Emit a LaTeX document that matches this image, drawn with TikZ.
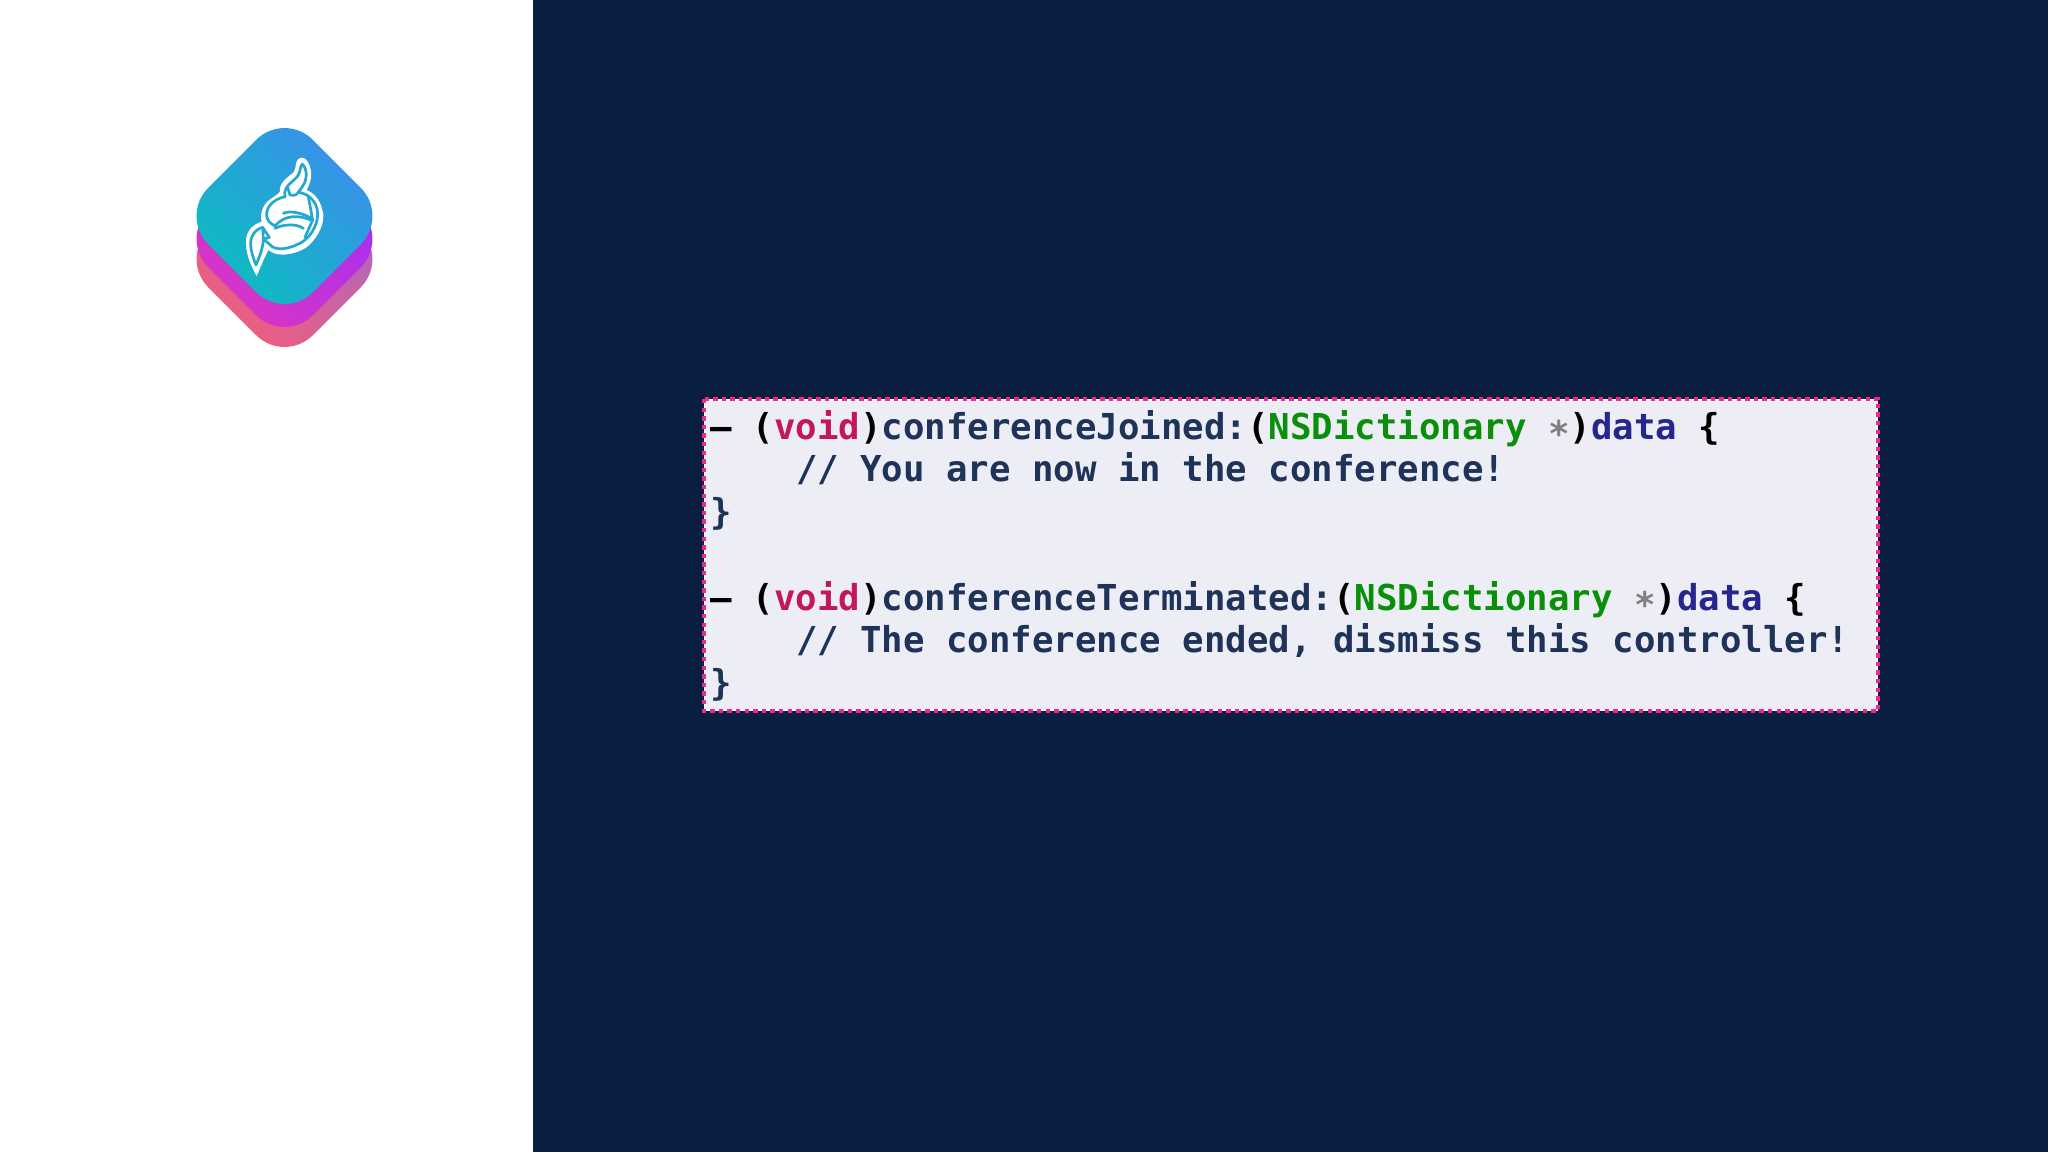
\documentclass[tikz,border=0pt]{standalone}
\usepackage{fontspec}
\setmonofont{DejaVu Sans Mono}[BoldFont={DejaVu Sans Mono Bold}]
\definecolor{navy}{HTML}{0A1E42}
\definecolor{codebg}{HTML}{EDEDF5}
\definecolor{ink}{HTML}{1F3358}
\definecolor{kw}{HTML}{C2185B}
\definecolor{ty}{HTML}{0A8F0A}
\definecolor{par}{HTML}{26268F}
\definecolor{starc}{HTML}{808080}
\definecolor{pinkdash}{HTML}{F0288C}
\definecolor{pinkA}{HTML}{F75C76}
\definecolor{pinkB}{HTML}{A768C8}
\definecolor{purpA}{HTML}{E035C0}
\definecolor{purpB}{HTML}{A02EF5}
\definecolor{tealA}{HTML}{08C0BC}
\definecolor{tealB}{HTML}{3E8CEE}
\definecolor{birdline}{HTML}{25A8D0}
\newcommand{\K}[1]{\textcolor{kw}{#1}}
\newcommand{\Ty}[1]{\textcolor{ty}{#1}}
\newcommand{\Pa}[1]{\textcolor{par}{#1}}
\newcommand{\St}[1]{\textcolor{starc}{#1}}
\newcommand{\Bk}[1]{\textcolor{black}{#1}}
\newcommand{\diamondpath}[1]{(284.5,{-#1+104.5}) -- (389,{-#1}) -- (284.5,{-#1-104.5}) -- (180,{-#1}) -- cycle}
\tikzset{
  x=0.5pt,y=0.5pt,
  codeline/.style={anchor=base west,inner sep=0pt,outer sep=0pt,text=ink,font=\ttfamily\bfseries\fontsize{17.85}{21}\selectfont},
  layer/.style={rounded corners=20pt},
  birdstroke/.style={draw=birdline,line width=1.35pt,line cap=round,line join=round}
}
\begin{document}
\begin{tikzpicture}
\useasboundingbox (0,0) rectangle (2048,-1152);
\fill[white] (0,0) rectangle (533,-1152);
\fill[navy] (533,0) rectangle (2048,-1152);
% logo layers
\shade[layer,bottom color=pinkA,top color=pinkB,shading angle=-45] \diamondpath{259};
\shade[layer,bottom color=purpA,top color=purpB,shading angle=-45] \diamondpath{239};
\shade[layer,bottom color=tealA,top color=tealB,shading angle=-45] \diamondpath{216};
% bird mark
\begin{scope}[shift={(240,-150)},x=0.16667pt,y=-0.16667pt]
\fill[white] (50,378) .. controls (32,345) and (16,310) .. (18,270)
  .. controls (20,240) and (42,222) .. (65,215)
  .. controls (58,190) and (70,160) .. (95,145)
  .. controls (105,138) and (115,132) .. (120,125)
  .. controls (115,100) and (145,80) .. (160,68)
  .. controls (170,55) and (165,35) .. (175,27)
  .. controls (185,18) and (197,25) .. (203,35)
  .. controls (215,55) and (220,85) .. (200,120)
  .. controls (225,130) and (245,155) .. (250,195)
  .. controls (252,230) and (225,275) .. (195,295)
  .. controls (165,312) and (115,325) .. (85,300)
  .. controls (72,325) and (60,355) .. (50,378) -- cycle;
\path[birdstroke] (135,140) .. controls (128,105) and (165,95) .. (175,75)
  .. controls (182,62) and (180,50) .. (187,42)
  .. controls (200,55) and (205,85) .. (187,110);
\path[birdstroke] (187,110) -- (175,127) .. controls (168,138) and (158,137) .. (150,135) -- (143,112);
\path[birdstroke] (175,127) .. controls (205,130) and (232,155) .. (233,190)
  .. controls (234,230) and (205,270) .. (175,282)
  .. controls (145,297) and (105,305) .. (88,282) -- (70,268);
\path[birdstroke] (135,140) .. controls (100,148) and (78,170) .. (80,198)
  .. controls (82,215) and (95,222) .. (105,228)
  .. controls (135,192) and (180,195) .. (218,212);
\path[birdstroke] (105,235) .. controls (125,225) and (165,218) .. (190,235);
\path[birdstroke] (130,190) .. controls (150,180) and (190,190) .. (215,205);
\path[birdstroke] (205,140) -- (218,210) -- (195,262);
\path[birdstroke] (68,232) .. controls (45,238) and (30,260) .. (32,285)
  .. controls (33,305) and (40,325) .. (48,345)
  .. controls (58,320) and (68,300) .. (70,268) -- (68,232) -- (88,262) -- (70,268);
\end{scope}
% code box
\node[fill=codebg,draw=white,line width=0.5pt,minimum width=586.5pt,minimum height=155.5pt,inner sep=0pt,anchor=north west] (box) at (704,-399) {};
\draw[pinkdash,line width=2.4pt,dash pattern=on 2.2pt off 2.1pt] (box.north west) rectangle (box.south east);
\node[codeline] (c1) at (710,-439) {\Bk{– (}\K{void}\Bk{)}conferenceJoined:\Bk{(}\Ty{NSDictionary} \St{∗}\Bk{)}\Pa{data} \Bk{\{}};
\node[codeline] (c2) at (796,-481.5) {// You are now in the conference!};
\node[codeline] (c3) at (710,-524) {\}};
\node[codeline] (c4) at (710,-610) {\Bk{– (}\K{void}\Bk{)}conferenceTerminated:\Bk{(}\Ty{NSDictionary} \St{∗}\Bk{)}\Pa{data} \Bk{\{}};
\node[codeline] (c5) at (796,-652.5) {// The conference ended, dismiss this controller!};
\node[codeline] (c6) at (710,-695) {\}};
\end{tikzpicture}
\end{document}
